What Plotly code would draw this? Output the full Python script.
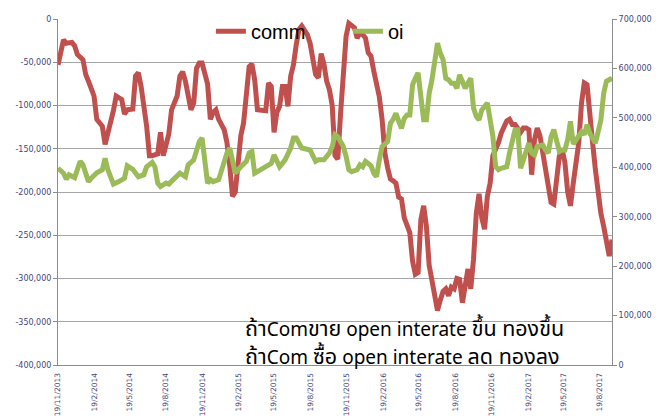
import numpy as np
import pandas as pd
import plotly.graph_objects as go

# ---- data (weekly COT reports, week offset from 19/11/2013) ----
start_date = "2013-11-19"

comm_weeks = [0, 2, 3, 5, 6, 7, 9, 10, 11, 13, 14, 16, 17, 19, 20, 21, 23, 24, 25, 27,
              28, 29, 30, 32, 33, 34, 36, 37, 38, 40, 41, 43, 44, 45, 46, 48, 49, 50, 51, 52,
              53, 54, 55, 56, 57, 58, 60, 61, 62, 63, 64, 65, 66, 67, 68, 69, 70, 71, 72, 73,
              74, 75, 76, 77, 78, 79, 80, 81, 82, 83, 84, 85, 86, 87, 88, 89, 90, 91, 92, 93,
              94, 95, 96, 97, 98, 99, 100, 101, 102, 103, 104, 105, 106, 107, 108, 109, 110, 111, 112, 113,
              114, 115, 116, 117, 118, 119, 120, 121, 122, 123, 124, 125, 126, 127, 128, 129, 130, 131, 132, 133,
              134, 135, 136, 137, 138, 139, 140, 141, 142, 143, 144, 145, 146, 147, 148, 149, 150, 151, 152, 153,
              154, 155, 156, 157, 158, 159, 160, 161, 162, 163, 164, 165, 166, 167, 168, 169, 170, 171, 172, 173,
              174, 175, 176, 177, 178, 179, 180, 181, 182, 183, 184, 185, 186, 187, 188, 189, 190, 191, 192, 193,
              194, 195, 196, 197, 198, 199, 200]
comm_values = [-53, -24, -28, -27, -31, -41, -47, -64, -72, -89, -116, -124, -145, -120, -106, -89, -93, -110, -105, -104,
               -66, -62, -78, -124, -158, -158, -156, -131, -158, -133, -105, -89, -66, -61, -72, -105, -97, -57, -51, -51,
               -66, -75, -116, -108, -105, -116, -128, -143, -170, -205, -200, -160, -135, -120, -82, -55, -52, -70, -105, -105,
               -105, -106, -74, -78, -131, -108, -101, -78, -78, -101, -66, -53, -30, -12, -8, -14, -18, -28, -47, -64,
               -68, -40, -52, -72, -82, -100, -158, -162, -110, -66, -20, -5, -7, -10, -22, -16, -18, -22, -39, -43,
               -60, -75, -90, -116, -155, -172, -185, -187, -190, -206, -208, -230, -240, -247, -280, -295, -293, -232, -216, -240,
               -285, -305, -320, -337, -325, -315, -312, -320, -310, -312, -300, -301, -328, -304, -289, -312, -278, -225, -202, -230,
               -243, -205, -190, -158, -152, -143, -132, -125, -118, -116, -122, -122, -128, -131, -126, -126, -128, -180, -140, -126,
               -135, -155, -172, -200, -212, -214, -178, -158, -151, -166, -200, -216, -190, -160, -143, -97, -74, -76, -116, -143,
               -174, -200, -225, -240, -262, -274, -255]

oi_weeks = [0, 2, 3, 4, 6, 8, 9, 11, 12, 14, 16, 17, 18, 20, 22, 24, 25, 26, 27, 29,
            31, 32, 34, 35, 36, 37, 39, 40, 43, 44, 46, 47, 49, 50, 51, 52, 54, 55, 56, 58,
            59, 60, 61, 62, 63, 64, 66, 68, 69, 70, 71, 73, 75, 76, 77, 78, 79, 80, 82, 84,
            85, 86, 88, 90, 91, 93, 94, 96, 97, 98, 99, 100, 101, 103, 104, 105, 106, 108, 109, 110,
            111, 113, 114, 115, 116, 117, 119, 120, 121, 122, 123, 124, 125, 126, 127, 128, 129, 130, 131, 132,
            133, 134, 135, 136, 137, 138, 139, 140, 141, 142, 143, 144, 145, 147, 149, 150, 151, 152, 153, 155,
            156, 157, 158, 159, 160, 162, 163, 164, 165, 166, 167, 168, 169, 170, 171, 172, 173, 175, 176, 177,
            178, 179, 181, 182, 183, 184, 185, 186, 187, 188, 189, 190, 191, 192, 194, 195, 196, 197, 198, 200]
oi_values = [398, 388, 376, 385, 379, 412, 405, 371, 378, 389, 395, 418, 395, 366, 371, 378, 403, 398, 396, 381,
             385, 401, 410, 401, 368, 361, 368, 366, 385, 388, 381, 405, 415, 432, 452, 459, 368, 375, 371, 375,
             395, 408, 429, 439, 415, 388, 401, 412, 429, 432, 388, 395, 401, 405, 408, 425, 412, 401, 415, 439,
             459, 459, 439, 435, 435, 412, 415, 415, 422, 429, 442, 466, 462, 442, 422, 395, 391, 395, 405, 401,
             412, 403, 388, 381, 415, 442, 452, 489, 497, 509, 493, 479, 499, 506, 506, 567, 580, 591, 543, 496,
             496, 550, 577, 618, 651, 631, 618, 580, 577, 570, 570, 560, 587, 560, 580, 520, 503, 496, 516, 530,
             489, 462, 401, 395, 398, 401, 429, 449, 476, 476, 398, 415, 435, 449, 429, 425, 442, 445, 435, 429,
             462, 476, 432, 435, 435, 456, 493, 447, 455, 462, 472, 466, 486, 469, 449, 472, 496, 550, 574, 580]

tick_dates = ["2013-11-19", "2014-02-19", "2014-05-19", "2014-08-19", "2014-11-19", "2015-02-19",
              "2015-05-19", "2015-08-19", "2015-11-19", "2016-02-19", "2016-05-19", "2016-08-19",
              "2016-11-19", "2017-02-19", "2017-05-19", "2017-08-19"]
tick_labels = ["19/11/2013", "19/2/2014", "19/5/2014", "19/8/2014", "19/11/2014", "19/2/2015",
               "19/5/2015", "19/8/2015", "19/11/2015", "19/2/2016", "19/5/2016", "19/8/2016",
               "19/11/2016", "19/2/2017", "19/5/2017", "19/8/2017"]

left_ticks = [0, -50000, -100000, -150000, -200000, -250000, -300000, -350000, -400000]
left_labels = ["0", "-50,000", "-100,000", "-150,000", "-200,000", "-250,000", "-300,000", "-350,000", "-400,000"]
right_ticks = [0, 100000, 200000, 300000, 400000, 500000, 600000, 700000]
right_labels = ["0", "100,000", "200,000", "300,000", "400,000", "500,000", "600,000", "700,000"]

# note text, split into (text, is_thai) pieces so the Thai parts can be sized separately
note_line1 = [("ถ้า", True), ("Com", False), ("ขาย", True), (" open interate ", False), ("ขึ้น ทองขึ้น", True)]
note_line2 = [("ถ้า", True), ("Com ", False), ("ซื้อ", True), (" open interate ", False), ("ลด ทองลง", True)]

# ---- build ----
t0 = pd.Timestamp(start_date)
comm_x = t0 + pd.to_timedelta(np.array(comm_weeks) * 7, unit="D")
oi_x = t0 + pd.to_timedelta(np.array(oi_weeks) * 7, unit="D")

RED = "#C0504D"
GREEN = "#9BBB59"
AX = "#8c8c8c"
LBL = "#46467a"
FONT = "DejaVu Sans"

fig = go.Figure()
fig.add_trace(go.Scatter(x=comm_x, y=np.array(comm_values) * 1000, name="comm",
                         mode="lines", line=dict(color=RED, width=5), yaxis="y"))
fig.add_trace(go.Scatter(x=oi_x, y=np.array(oi_values) * 1000, name="oi",
                         mode="lines", line=dict(color=GREEN, width=5), yaxis="y2"))

# page has an 8px body margin, so the figure is 8px smaller than the window
fig.update_layout(
    width=664, height=411,
    margin=dict(l=50, r=60, t=11, b=54, autoexpand=False),
    paper_bgcolor="white", plot_bgcolor="white",
    font=dict(family=FONT, size=8, color=LBL),
    xaxis=dict(type="date", range=[t0, t0 + pd.Timedelta(days=1400)], automargin=False,
               tickmode="array", tickvals=tick_dates, ticktext=tick_labels,
               tickangle=-90, tickfont=dict(family=FONT, size=7.5, color=LBL),
               showgrid=False, zeroline=False, showline=True, linecolor=AX,
               ticks="", ticklabelstandoff=4),
    xaxis2=dict(type="date", range=[t0, t0 + pd.Timedelta(days=1400)], overlaying="x",
                side="top", tickmode="array", tickvals=tick_dates, showticklabels=False,
                automargin=False,
                ticks="inside", ticklen=4, tickcolor=AX, showgrid=False, zeroline=False,
                showline=True, linecolor=AX),
    yaxis=dict(range=[-400000, 0], tickmode="array", tickvals=left_ticks, ticktext=left_labels,
               automargin=False,
               showgrid=True, gridcolor="#a6a6a6", gridwidth=1, zeroline=False,
               showline=True, linecolor=AX, ticks="outside", ticklen=4, tickcolor=AX,
               tickfont=dict(family=FONT, size=8, color=LBL)),
    yaxis2=dict(range=[0, 700000], overlaying="y", side="right", tickmode="array",
                automargin=False,
                tickvals=right_ticks, ticktext=right_labels, showgrid=False, zeroline=False,
                showline=True, linecolor=AX, ticks="outside", ticklen=4, tickcolor=AX,
                tickfont=dict(family=FONT, size=8, color=LBL)),
    legend=dict(orientation="h", x=0.276, y=1.021, xanchor="left", yanchor="top",
                bgcolor="rgba(0,0,0,0)", font=dict(family="Liberation Sans", size=20, color="black"),
                itemwidth=30, entrywidth=92, tracegroupgap=0),
    showlegend=True,
)


def build(parts):
    out = []
    for txt, thai in parts:
        if thai:
            out.append("<span style='font-size:21.5px'>" + txt + "</span>")
        else:
            out.append(txt)
    return "".join(out)


for i, parts in enumerate([note_line1, note_line2]):
    fig.add_annotation(xref="paper", yref="paper", x=(243 - 58) / 554, y=(365 - (327 + 28 * i)) / 346,
                       xanchor="left", yanchor="middle", showarrow=False, text=build(parts),
                       font=dict(family="Noto Sans, Noto Sans Thai, Tahoma, sans-serif", size=19, color="black"))

fig.write_html("out.html")
